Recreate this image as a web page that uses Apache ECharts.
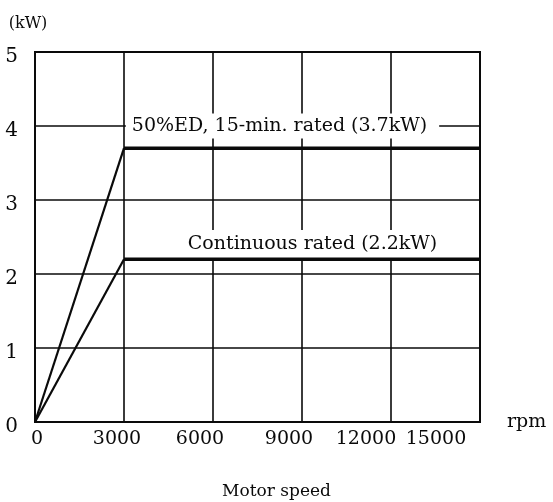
<!DOCTYPE html>
<html>
<head>
<meta charset="utf-8">
<script src="https://cdn.jsdelivr.net/npm/echarts@6/dist/echarts.min.js"></script>
<style>html,body{margin:0;padding:0;background:#fff;}#c{width:553px;height:502px;}</style>
</head>
<body>
<div id="c"></div>
<script>
// ---- data ----
const speeds = [0, 3000, 15000];              // rpm
const ratedED = [0, 3.7, 3.7];                // 50%ED, 15-min rated (kW)
const ratedCont = [0, 2.2, 2.2];              // continuous rated (kW)
const xTicks = [0, 3000, 6000, 9000, 12000, 15000];
const yTicks = [0, 1, 2, 3, 4, 5];
const labelED = '50%ED, 15-min. rated (3.7kW)';
const labelCont = 'Continuous rated (2.2kW)';
const labelEDAt = [8343, 4];
const labelContAt = [9354, 2.4];

const FONT = 'DejaVu Serif';
const INK = '#0a0a0a';
function seg(xs, ys, a, b) {
  const out = [];
  for (let i = a; i <= b; i++) out.push([xs[i], ys[i]]);
  return out;
}
// per-label horizontal nudges (px) to mimic the typed labels
const nudge = [2, -7, -13, -13, -25, -44];
const rich = {};
nudge.forEach((d, i) => {
  rich['s' + i] = {
    fontFamily: FONT, fontSize: 19, color: INK,
    padding: d >= 0 ? [0, 0, 0, 2 * d] : [0, -2 * d, 0, 0]
  };
});

const chart = echarts.init(document.getElementById('c'));
const lineBase = { type: 'line', symbol: 'none', animation: false, silent: true };
chart.setOption({
  animation: false,
  grid: { left: 35, right: 73, top: 52, bottom: 80, show: true, borderColor: INK, borderWidth: 2, backgroundColor: 'transparent' },
  title: {
    text: 'Motor speed', left: 'center', top: 478,
    textStyle: { fontFamily: FONT, fontSize: 17, fontWeight: 'normal', color: INK }
  },
  xAxis: {
    type: 'value', min: xTicks[0], max: xTicks[xTicks.length - 1], interval: 3000,
    name: 'rpm', nameLocation: 'end', nameGap: 27,
    nameTextStyle: { fontFamily: FONT, fontSize: 19, color: INK, verticalAlign: 'middle', padding: [0, 0, 4, 0] },
    axisLine: { show: true, lineStyle: { color: INK, width: 2 } },
    axisTick: { show: false },
    splitLine: { show: true, lineStyle: { color: INK, width: 1.6 } },
    axisLabel: {
      margin: 8,
      formatter: function (v) { const i = xTicks.indexOf(v); return '{s' + i + '|' + v + '}'; },
      rich: rich
    }
  },
  yAxis: {
    type: 'value', min: yTicks[0], max: yTicks[yTicks.length - 1], interval: 1,
    name: '(kW)', nameLocation: 'end', nameGap: 20,
    nameTextStyle: { fontFamily: FONT, fontSize: 16, color: INK, padding: [0, 14, 0, 0] },
    axisLine: { show: true, lineStyle: { color: INK, width: 2 } },
    axisTick: { show: false },
    splitLine: { show: true, lineStyle: { color: INK, width: 1.6 } },
    axisLabel: {
      margin: 17,
      formatter: function (v) { return '{y|' + v + '}'; },
      rich: { y: { fontFamily: FONT, fontSize: 20, color: INK, padding: [10, 0, 0, 0] } }
    }
  },
  series: [
    Object.assign({}, lineBase, {
      name: 'ED rise', data: seg(speeds, ratedED, 0, 1), lineStyle: { color: INK, width: 2.2 },
      markPoint: {
        symbol: 'rect', symbolSize: 0, silent: true, animation: false,
        data: [{ coord: labelEDAt, value: labelED }],
        label: {
          show: true, position: 'inside', formatter: labelED,
          fontFamily: FONT, fontSize: 19, color: INK,
          backgroundColor: '#fff', padding: [3, 12, 3, 6]
        }
      }
    }),
    Object.assign({}, lineBase, {
      name: 'Cont rise', data: seg(speeds, ratedCont, 0, 1), lineStyle: { color: INK, width: 2.2 },
      markPoint: {
        symbol: 'rect', symbolSize: 0, silent: true, animation: false,
        data: [{ coord: labelContAt, value: labelCont }],
        label: {
          show: true, position: 'inside', formatter: labelCont,
          fontFamily: FONT, fontSize: 19, color: INK,
          backgroundColor: '#fff', padding: [5, 4, 5, 4]
        }
      }
    }),
    Object.assign({}, lineBase, { name: 'ED', z: 20, data: seg(speeds, ratedED, 1, 2), lineStyle: { color: INK, width: 3.5 } }),
    Object.assign({}, lineBase, { name: 'Cont', z: 20, data: seg(speeds, ratedCont, 1, 2), lineStyle: { color: INK, width: 3.5 } })
  ]
});
</script>
</body>
</html>
